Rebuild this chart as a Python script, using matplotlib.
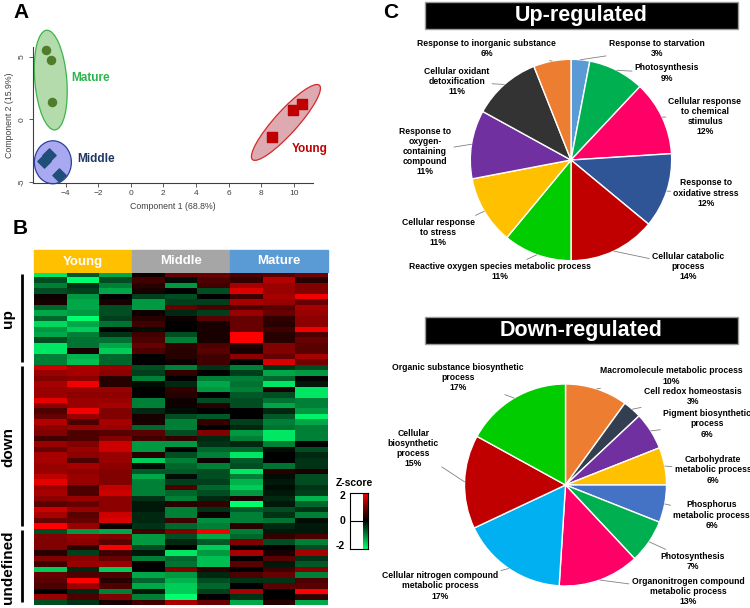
import numpy as np
import matplotlib
matplotlib.use("Agg")
import matplotlib.pyplot as plt
from matplotlib.patches import Ellipse, Rectangle
from matplotlib.colors import LinearSegmentedColormap
from matplotlib.transforms import ScaledTranslation

plt.rcParams['font.family'] = ['Liberation Sans', 'DejaVu Sans']

W, H = 750, 608

# ---------------- panel A: PCA scores
mature_x = [-5.22, -4.90, -4.86]
mature_y = [5.52, 4.78, 1.38]
middle_x = [-5.02, -5.33, -4.39]
middle_y = [-2.80, -3.34, -4.40]
young_x = [8.66, 9.98, 10.53]
young_y = [-1.41, 0.72, 1.20]
pca_xticks = [-4, -2, 0, 2, 4, 6, 8, 10]
pca_yticks = [-5, 0, 5]
pc1_label = "Component 1 (68.8%)"
pc2_label = "Component 2 (15.9%)"

# ---------------- panel B: z-score heatmap (Young x3, Middle x3, Mature x3)
groups = ["Young", "Middle", "Mature"]
up_z = [
    [-1.8, -0.7, -1.3, 0.1, 0.8, 0.8, 0.6, 0.7, 0.9],
    [-0.6, -2.0, -0.6, 0.5, -0.1, 0.6, 0.4, 1.4, 0.3],
    [-1.0, -0.4, -1.0, 0.3, -1.2, 0.5, 1.3, 1.2, 1.0],
    [-0.6, -0.5, -1.3, 0.2, 0.0, -0.6, 1.7, 1.2, 1.0],
    [0.1, -1.2, 0.0, -0.5, -0.6, 0.0, 0.5, 1.3, 1.9],
    [0.2, -1.3, 0.2, -1.2, -0.5, -0.5, 1.3, 1.2, 0.8],
    [-0.8, -1.3, -0.6, -1.2, 0.8, 0.6, 0.6, 0.7, 1.3],
    [-1.3, -1.2, -0.6, 0.1, -0.3, -0.5, 1.2, 0.8, 1.2],
    [-0.8, -2.0, -0.5, 0.3, 0.1, 0.7, 0.8, 0.4, 1.1],
    [-1.7, -1.3, -0.9, 0.5, 0.0, 0.2, 0.8, 0.3, 1.1],
    [-1.2, -1.6, 0.0, -0.1, 0.0, 0.2, 0.8, 0.5, 1.9],
    [-1.3, -1.0, -0.4, 0.5, -0.6, 0.2, 2.0, 0.3, 0.6],
    [-0.6, -0.9, -0.9, 0.6, -1.0, 0.2, 2.0, 0.3, 0.8],
    [-1.8, -0.9, -1.3, 0.8, 0.4, 0.6, 0.3, 1.0, 0.7],
    [-1.8, 0.2, -1.6, 0.6, 0.3, 0.7, 0.2, 1.0, 0.7],
    [-1.0, -1.4, -0.8, 0.0, 0.3, 0.5, 1.1, 0.8, 1.3],
    [-1.0, -1.5, -0.8, 0.0, 0.1, 0.5, 0.0, 1.7, 0.9],
]
down_z = [
    [1.6, 1.3, 1.2, -0.6, -1.0, -0.4, -1.0, -0.4, -0.6],
    [1.2, 1.3, 1.1, -0.5, 0.4, 0.0, -0.5, -1.3, -1.2],
    [1.0, 1.1, 0.3, -1.0, 0.0, -1.0, -1.0, -0.8, 0.0],
    [1.3, 1.9, 0.3, -0.1, -0.3, -1.3, -0.9, -1.8, -0.2],
    [1.2, 1.2, 1.2, 0.0, 0.4, -1.2, -1.0, 0.2, -1.8],
    [1.2, 1.1, 1.1, 0.0, 0.3, 0.0, -0.7, -0.6, -1.8],
    [1.8, 1.2, 1.2, -1.0, 0.1, -0.6, -0.6, -0.9, -1.0],
    [1.1, 1.2, 1.3, -1.0, 0.1, 0.3, -0.6, -1.3, -1.0],
    [0.6, 1.9, 1.0, -0.3, -0.1, 0.0, 0.0, -0.3, -1.2],
    [0.8, 1.2, 1.0, 0.2, -0.6, -0.7, 0.0, -0.7, -1.9],
    [1.4, 0.6, 1.3, 0.2, -1.0, 0.4, -0.5, -1.0, -1.3],
    [1.1, 1.2, 1.2, -0.8, -1.0, 0.0, -0.3, -0.9, -1.0],
    [1.0, 0.6, 0.7, 0.7, -0.6, 1.0, -1.2, -1.8, -1.0],
    [0.5, 0.6, 1.0, 0.5, 0.4, -0.3, -1.0, -1.8, -1.0],
    [1.2, 1.0, 1.6, -1.2, -1.2, -0.4, -0.3, -1.0, 0.0],
    [0.8, 1.2, 1.6, -1.2, 0.0, -0.8, -0.8, -0.1, -0.6],
    [1.3, 1.1, 1.2, 0.3, -0.6, -1.0, -1.8, 0.0, -0.3],
    [1.3, 0.6, 1.2, -1.6, -1.0, 0.1, -0.7, 0.0, -0.4],
    [1.2, 1.3, 1.1, -0.1, -0.8, -1.0, -0.6, -0.9, -0.4],
    [1.2, 1.1, 1.0, -0.7, -0.7, -0.6, -1.8, 0.3, 0.2],
    [1.5, 1.2, 1.0, -1.3, -0.1, -0.6, -1.0, -0.1, -0.6],
    [1.8, 1.2, 1.0, -1.0, -0.5, -0.5, -1.4, -0.2, -0.6],
    [1.2, 0.6, 1.5, -1.0, 0.6, -0.8, -1.6, -0.1, -0.4],
    [1.3, 0.6, 1.6, -1.0, -0.8, -0.6, -1.2, -0.2, -0.5],
    [1.1, 1.2, 1.1, -0.4, -1.0, -0.3, 0.2, -0.3, -1.4],
    [0.7, 0.8, 1.1, -0.2, 0.3, 0.4, -2.0, -0.2, -0.8],
    [1.6, 1.2, 1.1, -0.2, -1.0, -0.4, -0.7, -0.6, -0.4],
    [1.3, 0.7, 1.6, -0.3, -1.0, 0.1, -1.0, -0.4, -1.0],
    [0.8, 0.8, 1.7, -0.3, 0.5, -1.1, -1.0, -0.9, -0.1],
    [2.0, 1.2, 0.1, -0.4, -0.8, -1.0, 0.3, -0.3, -0.2],
]
undef_z = [
    [-0.6, -1.2, -1.3, 0.5, 1.0, 1.9, -1.0, -0.2, -0.2],
    [1.0, 1.2, 1.0, -1.2, -0.6, -1.3, -0.8, 0.4, 0.6],
    [1.0, 1.1, 0.7, -1.2, -0.3, -0.7, 1.0, -0.6, -1.0],
    [1.0, 0.4, 2.0, -0.6, 0.0, -1.6, 0.0, 0.0, -0.6],
    [0.3, -0.5, 0.5, -0.2, -1.8, -1.2, 1.3, 0.2, 1.3],
    [1.0, 1.1, 0.8, -1.0, -0.8, -1.5, 0.0, 0.7, -0.4],
    [0.5, 1.2, 1.2, 0.0, -0.9, -1.5, 0.7, -0.2, -0.7],
    [-1.6, -0.3, -1.6, 0.0, 1.0, 0.3, 0.0, 0.5, 1.0],
    [0.8, 0.6, 0.6, -1.3, -1.2, -0.3, 0.6, 0.8, -1.0],
    [0.7, 2.0, 0.3, -0.8, -1.4, -0.6, -0.4, -0.4, 0.6],
    [0.6, 1.2, 0.6, -1.3, -1.6, -0.8, 0.0, 0.7, 0.7],
    [0.0, -0.3, -1.0, -0.2, -1.6, -0.5, 1.3, 0.0, 2.0],
    [1.2, 0.6, 1.0, -1.0, -2.0, 0.0, -0.4, 0.0, 0.4],
    [-0.6, -0.4, 0.2, 0.5, 1.3, 0.8, -1.3, 0.3, -1.3],
]
block_names = ["up", "down", "undefined"]
zscore_ticks = [2, 0, -2]

# ---------------- panel C: GO term pies
up_terms = ["Response to starvation", "Photosynthesis",
            "Cellular response\nto chemical\nstimulus",
            "Response to\noxidative stress", "Cellular catabolic\nprocess",
            "Reactive oxygen species metabolic process",
            "Cellular response\nto stress",
            "Response to\noxygen-\ncontaining\ncompound",
            "Cellular oxidant\ndetoxification",
            "Response to inorganic substance"]
up_pct = [3, 9, 12, 12, 14, 11, 11, 11, 11, 6]
down_terms = ["Macromolecule metabolic process", "Cell redox homeostasis",
              "Pigment biosynthetic\nprocess", "Carbohydrate\nmetabolic process",
              "Phosphorus\nmetabolic process", "Photosynthesis",
              "Organonitrogen compound\nmetabolic process",
              "Cellular nitrogen compound\nmetabolic process",
              "Cellular\nbiosynthetic\nprocess",
              "Organic substance biosynthetic\nprocess"]
down_pct = [10, 3, 6, 6, 6, 7, 13, 17, 15, 17]

up_colors = ['#5b9bd5', '#00b050', '#ff0066', '#2f5597', '#c00000',
             '#00cc00', '#ffc000', '#7030a0', '#333333', '#ed7d31']
down_colors = ['#ed7d31', '#333f50', '#7030a0', '#ffc000', '#4472c4',
               '#00b050', '#ff0066', '#00b0f0', '#c00000', '#00cc00']

fig = plt.figure(figsize=(W / 100, H / 100), dpi=100)


def px_axes(x, y, w, h):
    return fig.add_axes([x / W, 1 - (y + h) / H, w / W, h / H])


# overlay in pixel coordinates for headers, brackets, letters
ov = fig.add_axes([0, 0, 1, 1])
ov.set_xlim(0, W)
ov.set_ylim(H, 0)
ov.axis('off')

ov.text(13, 12, "A", fontsize=15, fontweight='bold', va='center')
ov.text(13, 229, "B", fontsize=15, fontweight='bold', va='center')
ov.text(383, 12, "C", fontsize=15, fontweight='bold', va='center')

# ---- A
axA = px_axes(33, 47, 280, 135.7)
axA.set_xlim(-6.0, 11.18)
axA.set_ylim(-5.05, 5.78)
for s in ['top', 'right']:
    axA.spines[s].set_visible(False)
for s in ['left', 'bottom']:
    axA.spines[s].set_color('#404040')
    axA.spines[s].set_linewidth(0.8)
axA.set_xticks(pca_xticks)
axA.set_yticks(pca_yticks)
axA.set_yticklabels([str(v) for v in pca_yticks], rotation=90, va='center')
axA.tick_params(labelsize=6, colors='#404040', length=3, width=0.6, pad=2)
axA.set_xlabel(pc1_label, fontsize=6.3, color='#404040', labelpad=4)
axA.set_ylabel(pc2_label, fontsize=6.3, color='#404040', labelpad=4)

# confidence ellipses: (centre x, centre y, width px, height px, angle)
ell_specs = [(-4.91, 3.14, 32, 100, 4.8, '#b4dbac', '#3cb44b'),
             (-4.78, -3.42, 37, 43, 0, '#a9a9f2', '#2d3f9a'),
             (9.52, -0.24, 100, 23, 48, '#dcaab0', '#d42a2a')]
for cx, cy, ew, eh, ang, fc, ec in ell_specs:
    tr = fig.dpi_scale_trans + ScaledTranslation(cx, cy, axA.transData)
    axA.add_patch(Ellipse((0, 0), ew / 100, eh / 100, angle=ang, transform=tr,
                          facecolor=fc, edgecolor=ec, lw=0.9, zorder=1,
                          clip_on=False))

axA.scatter(mature_x, mature_y, s=34, marker='o', color='#4f7d2a', zorder=3, clip_on=False)
axA.scatter(middle_x, middle_y, s=45, marker='D', color='#1f4e79', zorder=3, clip_on=False)
axA.scatter(young_x, young_y, s=60, marker='s', color='#c00000', zorder=3, clip_on=False)
axA.text(-3.63, 3.3, "Mature", color='#2eb34f', fontsize=8.5, fontweight='bold', va='center')
axA.text(-3.29, -3.15, "Middle", color='#1f3864', fontsize=8.5, fontweight='bold', va='center')
axA.text(9.86, -2.35, "Young", color='#c00000', fontsize=8.5, fontweight='bold', va='center')

# ---- B
hx0, hy0, hw, hh = 34, 272.7, 294, 332.3
Z = np.array(up_z + down_z + undef_z)
cmap = LinearSegmentedColormap.from_list('gkr', ['#00ff6e', '#000000', '#ff0000'])
axB = px_axes(hx0, hy0, hw, hh)
axB.imshow(Z, cmap=cmap, vmin=-2, vmax=2, aspect='auto', interpolation='nearest')
axB.axis('off')

group_colors = ['#ffc000', '#a6a6a6', '#5b9bd5']
col_w = hw / len(groups)
for i, (g, c) in enumerate(zip(groups, group_colors)):
    ov.add_patch(Rectangle((hx0 + i * col_w, 250), col_w, 22, color=c))
    ov.text(hx0 + (i + 0.5) * col_w, 261.5, g, color='white', fontsize=9.5,
            fontweight='bold', ha='center', va='center')

row_h = hh / len(Z)
start = 0
for name, block in zip(block_names, [up_z, down_z, undef_z]):
    y0 = hy0 + start * row_h
    y1 = hy0 + (start + len(block)) * row_h
    ov.plot([21.7, 21.7], [y0 + 1, y1 - 3], color='black', lw=2, solid_capstyle='butt')
    ov.text(8.5, (y0 + y1) / 2, name, rotation=90, fontsize=11, fontweight='bold',
            ha='center', va='center')
    start += len(block)

# colour key
ov.text(336, 483, "Z-score", fontsize=7.5, fontweight='bold', va='center')
axK = px_axes(350, 493, 18, 56)
axK.imshow(np.linspace(2, -2, 100)[:, None], cmap=cmap, vmin=-2, vmax=2,
           extent=[0.7, 1.0, -2, 2], aspect='auto')
axK.set_xlim(0, 1)
axK.set_ylim(-2, 2)
axK.axhline(0, color='black', lw=0.8)
axK.set_xticks([])
axK.set_yticks([])
for s in axK.spines.values():
    s.set_linewidth(0.8)
for t in zscore_ticks:
    ov.text(345, 521 - t * 12.5, str(t), fontsize=7.5, fontweight='bold',
            ha='right', va='center')

# ---- C
def header(y, text):
    ov.add_patch(Rectangle((425, y), 313, 27, facecolor='black',
                           edgecolor='#9a9a9a', lw=1))
    ov.text(581.5, y + 13.5, text, color='white', fontsize=15.5,
            fontweight='bold', ha='center', va='center')


header(2, "Up-regulated")
header(317, "Down-regulated")


def draw_pie(cx, cy, R, pct, terms, colors, label_px):
    ax = px_axes(cx - 1.25 * R, cy - 1.25 * R, 2.5 * R, 2.5 * R)
    wedges, _ = ax.pie(pct, colors=colors, startangle=90, counterclock=False,
                       wedgeprops=dict(edgecolor='white', linewidth=1.0))
    ax.set_xlim(-1.25, 1.25)
    ax.set_ylim(-1.25, 1.25)
    ax.set_aspect('equal')
    ax.axis('off')
    for w, term, p, (lx, ly) in zip(wedges, terms, pct, label_px):
        mid = np.deg2rad((w.theta1 + w.theta2) / 2)
        ax.annotate(f"{term}\n{p}%", xy=(np.cos(mid), np.sin(mid)),
                    xytext=((lx - cx) / R, (cy - ly) / R),
                    ha='center', va='center', fontsize=6.2, fontweight='bold',
                    linespacing=1.15, annotation_clip=False,
                    arrowprops=dict(arrowstyle='-', color='#808080', lw=0.6,
                                    shrinkA=0, shrinkB=0))


up_label_px = [(656.7, 48.3), (667, 73), (705, 116.7), (706, 193), (688, 266.7),
               (500, 271.7), (438, 232.7), (425, 151.7), (456.7, 81.7), (486.7, 48.3)]
down_label_px = [(671.7, 376), (692.7, 396.7), (707, 424), (713, 470), (711.7, 515),
                 (693, 561.7), (688, 591.7), (440, 586), (413.3, 448.3), (458.3, 377.3)]

draw_pie(571, 160, 100.7, up_pct, up_terms, up_colors, up_label_px)
draw_pie(565.5, 485, 101, down_pct, down_terms, down_colors, down_label_px)

fig.savefig("out.png", dpi=100)
